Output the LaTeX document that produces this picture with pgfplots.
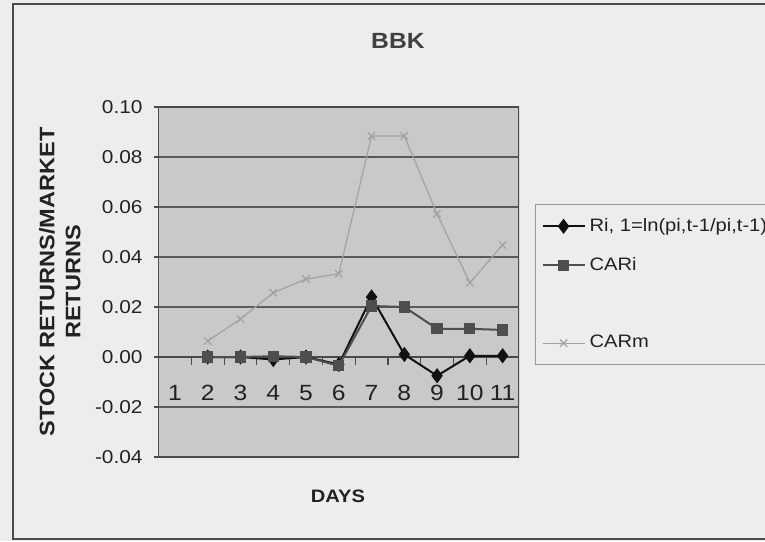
\documentclass[border=0pt]{standalone}
\usepackage{pgfplots}
\pgfplotsset{compat=1.18}
\usepackage{fontspec}
\setmainfont{Liberation Sans}[FakeStretch=1.12]

\definecolor{outerbg}{HTML}{EDEDED}
\definecolor{plotbg}{HTML}{C9C9C9}
\definecolor{gridcol}{HTML}{5A5A5A}
\definecolor{framecol}{HTML}{4A4A4A}
\definecolor{txtcol}{HTML}{222222}
\definecolor{ricol}{HTML}{111111}
\definecolor{caricol}{HTML}{4E4E4E}
\definecolor{carmcol}{HTML}{A2A2A2}

% Daily returns, BBK
\pgfplotstableread{
day  ri      cari    carm
2    0.000   0.000   0.0064
3    0.000   0.000   0.0152
4   -0.001   0.0003  0.0257
5    0.000   0.000   0.0312
6   -0.003  -0.0035  0.0333
7    0.024   0.0204  0.0884
8    0.001   0.020   0.0884
9   -0.0075  0.0113  0.0572
10   0.0005  0.0113  0.0297
11   0.0005  0.0108  0.0448
}\bbk

\begin{document}
\begin{tikzpicture}
% chart area (1px = 0.5pt, canvas 765 x 541)
\path[use as bounding box] (0,0) rectangle (382.5pt,270.5pt);
\clip (0,0) rectangle (382.5pt,270.5pt);
\fill[outerbg] (0,0) rectangle (382.5pt,270.5pt);
\draw[framecol, line width=0.8pt] (400pt,268.5pt) -- (6.5pt,268.5pt) -- (6.5pt,1pt) -- (400pt,1pt);

\begin{axis}[
  at={(79.3pt,42pt)}, anchor=south west,
  scale only axis, width=180.2pt, height=175pt,
  xmin=0.5, xmax=11.5, ymin=-0.04, ymax=0.10,
  axis x line=middle, axis y line=left,
  axis line style={-, draw=framecol, line width=0.7pt},
  hide obscured x ticks=false, hide obscured y ticks=false,
  axis background/.style={fill=plotbg},
  xtick={1,...,11},
  minor xtick={1.5,2.5,...,10.5},
  every major x tick/.style={draw=none},
  ytick={-0.04,-0.02,0,0.02,0.04,0.06,0.08,0.10},
  major tick length=2.5pt, minor tick length=4pt,
  tick align=outside,
  tick style={draw=framecol, line width=0.6pt},
  ymajorgrids, grid style={gridcol, line width=0.7pt},
  /pgf/number format/.cd, fixed, fixed zerofill, precision=2, assume math mode=true,
  /pgfplots/.cd,
  yticklabel style={font=\fontsize{9.3pt}{11pt}\selectfont, text=txtcol, xshift=-2pt},
  xticklabel style={font=\fontsize{11pt}{13pt}\selectfont, text=txtcol, anchor=center, yshift=-15.5pt},
  xticklabel={\pgfmathprintnumber[precision=0]{\tick}},
  title={\bfseries BBK},
  title style={at={(axis description cs:0.664,1.1543)}, anchor=center, font=\fontsize{11pt}{13pt}\selectfont, text=black!75},
  xlabel={\bfseries DAYS},
  xlabel style={at={(axis description cs:0.4978,-0.1114)}, anchor=center, font=\fontsize{9pt}{11pt}\selectfont, text=txtcol},
  ylabel={\bfseries STOCK RETURNS/MARKET\\\bfseries RETURNS},
  ylabel style={at={(axis description cs:-0.274,0.5)}, anchor=center, align=center, rotate=0, font=\fontsize{10.5pt}{13pt}\selectfont, text=txtcol},
  legend style={at={(axis description cs:1.0444,0.7236)}, anchor=north west,
    draw=gray!80, fill=outerbg, line width=0.5pt,
    font=\fontsize{9pt}{10.5pt}\selectfont, text=txtcol,
    row sep=7.5pt, inner xsep=3pt, inner ysep=5pt},
  legend cell align=left,
  legend image code/.code={\draw[mark repeat=2,mark phase=2] plot coordinates {(0cm,0cm) (0.37cm,0cm) (0.74cm,0cm)};},
]
\draw[framecol, line width=0.7pt] (rel axis cs:0,1) -- (rel axis cs:1,1) -- (rel axis cs:1,0) -- (rel axis cs:0,0);

\addplot[ricol, line width=1pt, mark=diamond*, mark size=3pt, mark options={fill=ricol, solid}] table[x=day, y=ri] {\bbk};
\addlegendentry{Ri, 1=ln(pi,t-1/pi,t-1)\hspace{20pt}}
\addplot[caricol, line width=1pt, mark=square*, mark size=2.3pt, mark options={fill=caricol, solid}] table[x=day, y=cari] {\bbk};
\addlegendentry{CARi}
\addlegendimage{empty legend}
\addlegendentry{\phantom{CARi}}
\addplot[carmcol, line width=0.6pt, mark=x, mark size=2.6pt] table[x=day, y=carm] {\bbk};
\addlegendentry{CARm}
\end{axis}
\end{tikzpicture}
\end{document}
